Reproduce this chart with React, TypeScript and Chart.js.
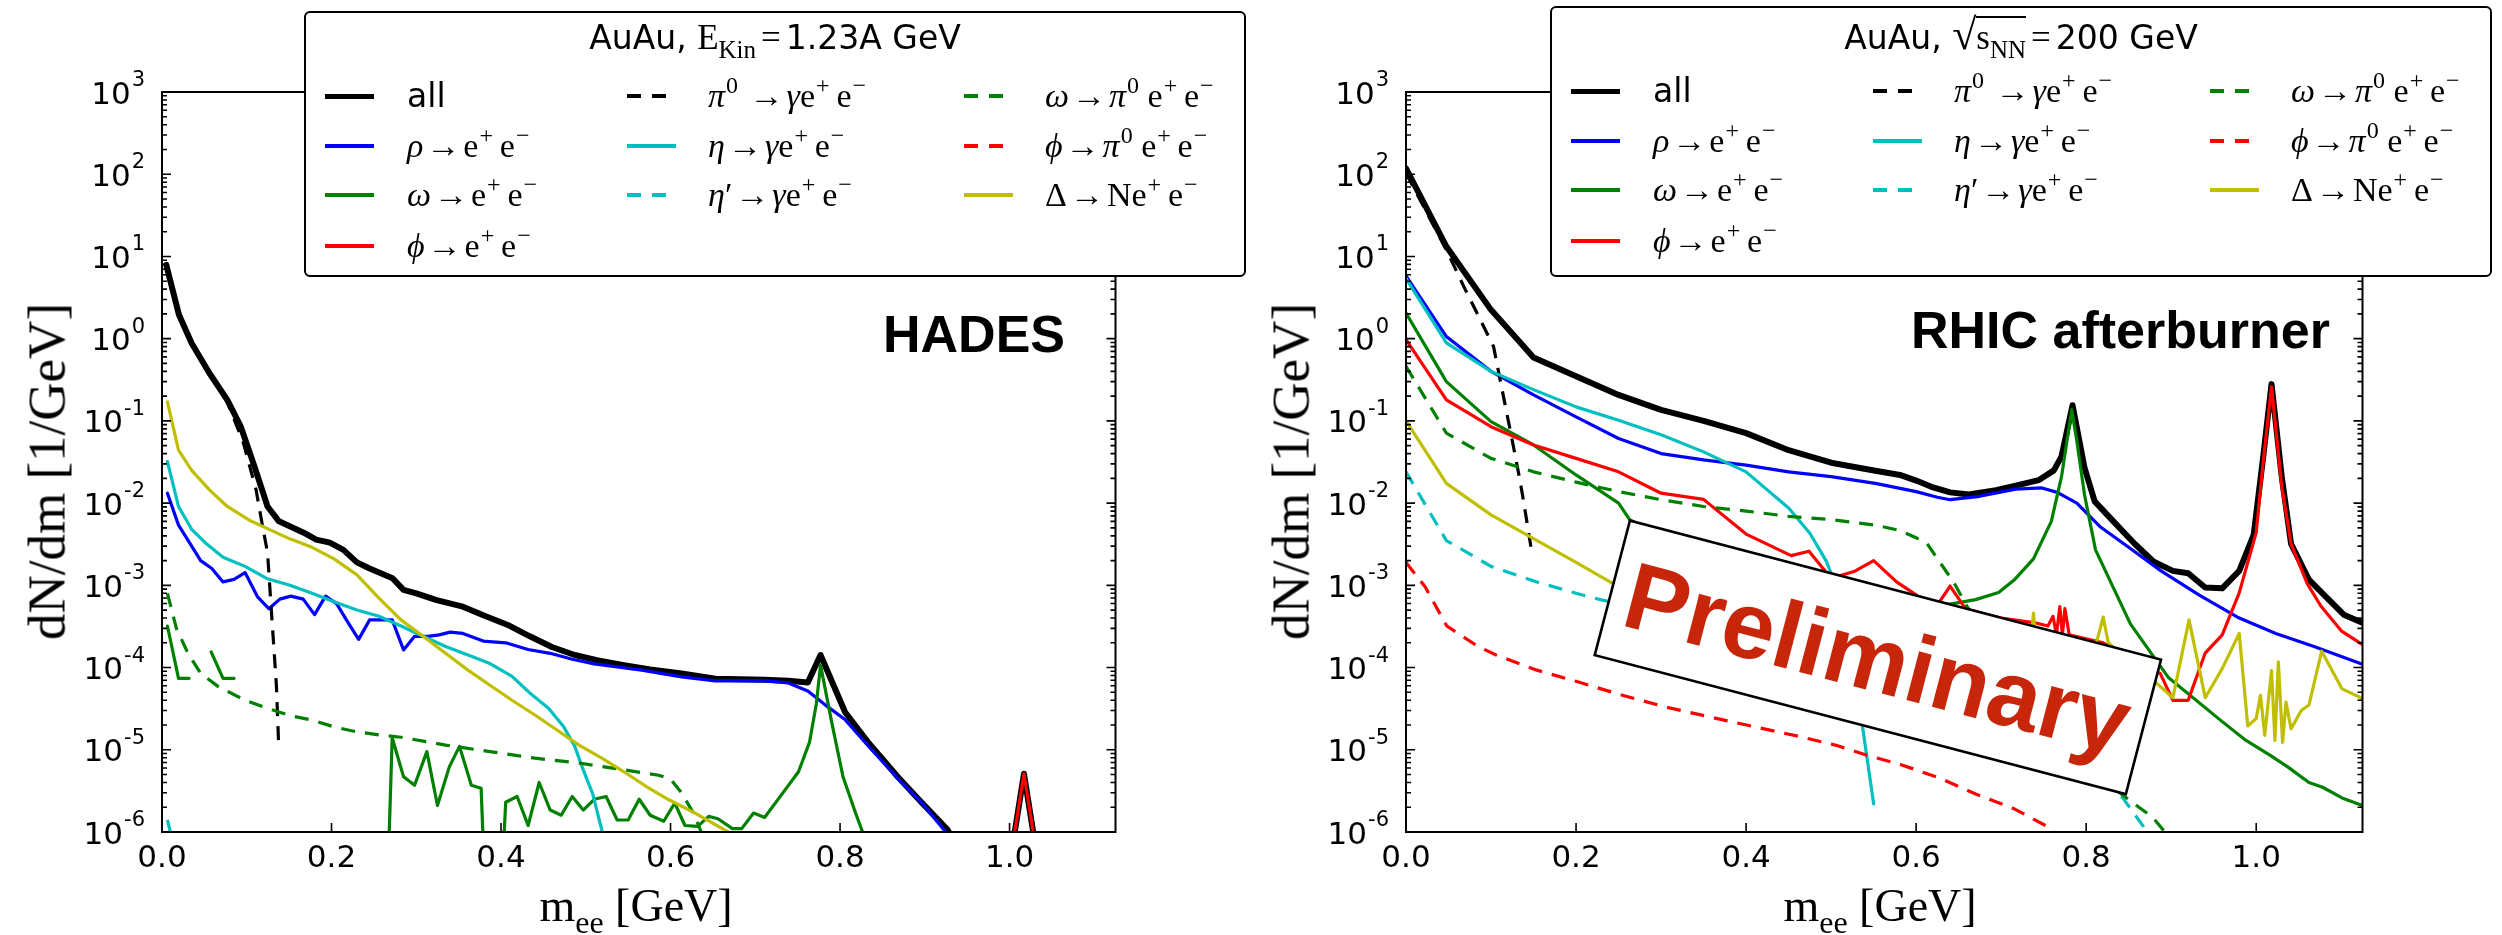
import React, { useEffect, useRef } from 'react';
import { Chart, registerables } from 'chart.js';
Chart.register(...registerables);

type Pt = [number, number | null];

// ---------------- axes / ticks ----------------
const xTickValues = [0, 0.2, 0.4, 0.6, 0.8, 1.0];
const xTickLabels = ['0.0', '0.2', '0.4', '0.6', '0.8', '1.0'];
const yExponents = [-6, -5, -4, -3, -2, -1, 0, 1, 2, 3];
const X_MAX = 1.125;
const Y_MIN = 1e-6;
const Y_MAX = 1e3;

// ---------------- HADES (AuAu, E_kin = 1.23A GeV) ----------------
const hadesAll: Pt[] = [[0.005,7.9],[0.02,1.95],[0.035,0.88],[0.056,0.38],[0.077,0.18],[0.093,0.085],[0.109,0.028],[0.1245,0.0091],[0.138,0.006],[0.1666,0.0044],[0.182,0.0036],[0.198,0.0033],[0.214,0.0027],[0.23,0.0019],[0.245,0.0016],[0.272,0.00122],[0.285,0.00088],[0.30,0.0008],[0.324,0.00066],[0.355,0.00055],[0.382,0.00042],[0.408,0.00033],[0.434,0.00024],[0.46,0.000178],[0.487,0.000142],[0.513,0.000123],[0.545,0.000107],[0.576,0.000095],[0.613,0.000085],[0.653,0.000073],[0.711,0.000071],[0.739,0.000069],[0.762,0.000066],[0.777,0.000142],[0.806,0.0000286],[0.833,0.0000124],[0.868,0.0000047],[0.896,0.0000023],[0.927,0.00000106],[0.95,4e-7],[0.98,3e-7],[1.0,4e-7],[1.017,5.1e-6],[1.034,4e-7],[1.06,2e-7]];
const hadesRho: Pt[] = [[0.0064,0.0132],[0.0195,0.0054],[0.035,0.003],[0.0456,0.002],[0.0588,0.0016],[0.072,0.0011],[0.085,0.00118],[0.098,0.00143],[0.1125,0.00073],[0.126,0.00052],[0.139,0.00068],[0.152,0.00074],[0.1666,0.00068],[0.18,0.00044],[0.193,0.00074],[0.206,0.0006],[0.219,0.00036],[0.232,0.00022],[0.245,0.00038],[0.258,0.00038],[0.2716,0.00038],[0.285,0.000164],[0.298,0.00024],[0.314,0.00024],[0.327,0.00025],[0.34,0.00027],[0.355,0.00026],[0.379,0.00021],[0.4055,0.0002],[0.432,0.000166],[0.458,0.000149],[0.484,0.000126],[0.51,0.000111],[0.537,0.000102],[0.566,0.000093],[0.613,0.000077],[0.653,0.000069],[0.711,0.000069],[0.739,0.000065],[0.762,0.000052],[0.786,0.000033],[0.8055,0.0000235],[0.833,0.0000112],[0.868,0.0000045],[0.896,0.0000023],[0.923,0.00000105],[0.95,4.5e-7]];
const hadesOmega: Pt[] = [[0.0064,3.2e-4],[0.0195,7.4e-5],[0.032,7.4e-5],[0.045,null],[0.058,1.55e-4],[0.072,7.4e-5],[0.085,7.4e-5],[0.098,null],[0.259,1e-9],[0.2716,1.4e-5],[0.285,4.7e-6],[0.298,3.7e-6],[0.3125,9.5e-6],[0.325,2.1e-6],[0.339,6.2e-6],[0.351,1.1e-5],[0.365,3.7e-6],[0.3765,3.4e-6],[0.39,1e-9],[0.4055,2.3e-6],[0.419,2.7e-6],[0.432,1.2e-6],[0.445,4e-6],[0.458,1.85e-6],[0.471,1.6e-6],[0.484,2.7e-6],[0.497,1.85e-6],[0.51,2.5e-6],[0.524,2.7e-6],[0.537,1.4e-6],[0.55,1.4e-6],[0.563,2.5e-6],[0.576,1.6e-6],[0.592,1.35e-6],[0.605,2.25e-6],[0.617,1.2e-6],[0.632,1.17e-6],[0.645,1.55e-6],[0.656,1.45e-6],[0.673,1.1e-6],[0.684,1.1e-6],[0.698,1.7e-6],[0.711,1.5e-6],[0.731,2.85e-6],[0.751,5.4e-6],[0.764,1.24e-5],[0.772,3.6e-5],[0.777,1.07e-4],[0.79,2.2e-5],[0.8035,4.7e-6],[0.818,1.74e-6],[0.83,8e-7],[0.85,2e-7]];
const hadesPhi: Pt[] = [[1.0,4e-7],[1.017,5.1e-6],[1.034,4e-7]];
const hadesPi0: Pt[] = [[0.005,7.5],[0.02,1.9],[0.035,0.85],[0.056,0.37],[0.077,0.17],[0.096,0.054],[0.111,0.0145],[0.119,0.005],[0.1245,0.0025],[0.129,0.0005],[0.135,0.00006],[0.1377,0.000011]];
const hadesEta: Pt[] = [[0.0064,0.032],[0.0195,0.0091],[0.035,0.0048],[0.051,0.0033],[0.072,0.0022],[0.098,0.0017],[0.1245,0.0012],[0.151,0.001],[0.177,0.0008],[0.203,0.00063],[0.23,0.0005],[0.256,0.00042],[0.282,0.00032],[0.308,0.00024],[0.3346,0.00018],[0.361,0.000142],[0.387,0.000112],[0.413,0.000078],[0.434,0.000049],[0.456,0.000032],[0.474,0.000019],[0.487,0.000011],[0.497,0.0000057],[0.508,0.00000295],[0.519,0.00000105],[0.53,3e-7]];
const hadesEtaPrime: Pt[] = [[0.0064,1.4e-6],[0.015,6e-7],[0.03,3e-7]];
const hadesOmegaPi0: Pt[] = [[0.0064,8e-4],[0.017,3e-4],[0.0305,1.5e-4],[0.0456,8.5e-5],[0.066,5.9e-5],[0.098,4e-5],[0.1245,3.2e-5],[0.151,2.6e-5],[0.177,2.3e-5],[0.203,1.9e-5],[0.23,1.65e-5],[0.256,1.52e-5],[0.282,1.42e-5],[0.3346,1.14e-5],[0.387,9.5e-6],[0.44,7.9e-6],[0.492,6.9e-6],[0.545,5.7e-6],[0.586,4.9e-6],[0.6,4.4e-6],[0.613,3e-6],[0.627,1.7e-6],[0.64,8e-7]];
const hadesPhiPi0: Pt[] = [];
const hadesDelta: Pt[] = [[0.0064,0.17],[0.0195,0.044],[0.035,0.025],[0.056,0.0145],[0.077,0.0091],[0.103,0.0062],[0.1245,0.0049],[0.15,0.0037],[0.177,0.0029],[0.203,0.0021],[0.23,0.00134],[0.256,0.0007],[0.282,0.00038],[0.308,0.00024],[0.3346,0.000149],[0.361,0.000093],[0.387,0.000061],[0.413,0.00004],[0.44,0.0000265],[0.466,0.0000174],[0.492,0.0000114],[0.519,0.0000079],[0.545,0.0000054],[0.571,0.0000036],[0.597,0.0000025],[0.629,0.0000017],[0.668,0.000001],[0.69,7e-7]];

// ---------------- RHIC afterburner (AuAu, sqrt(sNN) = 200 GeV) ----------------
const rhicAll: Pt[] = [[0,118],[0.0475,13.2],[0.1,2.24],[0.15,0.59],[0.2,0.35],[0.25,0.207],[0.3,0.136],[0.35,0.1],[0.4,0.071],[0.45,0.044],[0.5,0.031],[0.552,0.0248],[0.581,0.022],[0.6,0.0188],[0.62,0.0155],[0.64,0.0135],[0.662,0.0127],[0.694,0.0144],[0.721,0.0167],[0.744,0.019],[0.762,0.025],[0.771,0.037],[0.784,0.155],[0.798,0.027],[0.81,0.0105],[0.832,0.006],[0.857,0.0032],[0.879,0.00195],[0.902,0.0015],[0.92,0.0014],[0.94,0.00094],[0.96,0.00092],[0.98,0.0015],[0.997,0.0041],[1.008,0.035],[1.018,0.28],[1.03,0.021],[1.041,0.0032],[1.062,0.00117],[1.08,0.00076],[1.103,0.00044],[1.125,0.00035]];
const rhicRho: Pt[] = [[0,5.8],[0.0475,1.06],[0.1,0.40],[0.15,0.207],[0.2,0.112],[0.25,0.061],[0.3,0.040],[0.35,0.0336],[0.4,0.029],[0.45,0.024],[0.5,0.021],[0.552,0.0174],[0.6,0.0138],[0.625,0.0118],[0.64,0.011],[0.672,0.012],[0.717,0.0148],[0.748,0.0153],[0.766,0.0135],[0.789,0.01],[0.816,0.0052],[0.852,0.0028],[0.888,0.0015],[0.933,0.00076],[0.978,0.00041],[1.023,0.00026],[1.068,0.00018],[1.125,0.00011]];
const rhicOmega: Pt[] = [[0,2.05],[0.0475,0.30],[0.1,0.098],[0.15,0.051],[0.2,0.022],[0.25,0.01],[0.263,0.0063],[0.3,0.004],[0.4,0.0018],[0.5,0.001],[0.6,0.0006],[0.64,0.00059],[0.67,0.00067],[0.697,0.00082],[0.716,0.00118],[0.738,0.0021],[0.759,0.006],[0.771,0.021],[0.783,0.137],[0.789,0.057],[0.798,0.0127],[0.811,0.0027],[0.852,0.00034],[0.897,0.000075],[0.96,0.000022],[0.988,0.000013],[1.017,0.0000085],[1.037,0.0000062],[1.062,0.000004],[1.078,0.0000035],[1.101,0.0000026],[1.125,0.0000021]];
const rhicPhi: Pt[] = [[0,0.97],[0.0475,0.18],[0.1,0.085],[0.15,0.051],[0.2,0.035],[0.25,0.024],[0.3,0.0132],[0.35,0.0111],[0.4,0.0042],[0.453,0.0023],[0.474,0.0026],[0.5,0.00122],[0.527,0.00147],[0.55,0.002],[0.577,0.0011],[0.603,0.00073],[0.626,0.0006],[0.64,0.00098],[0.658,0.00052],[0.7,0.0004],[0.74,0.00035],[0.755,0.00032],[0.761,0.00042],[0.765,0.00025],[0.769,0.00055],[0.772,0.00025],[0.775,0.00052],[0.78,0.00025],[0.82,0.0002],[0.86,0.00012],[0.887,0.000085],[0.902,0.00004],[0.92,0.00004],[0.94,0.00015],[0.96,0.00025],[0.98,0.00081],[1.0,0.0044],[1.008,0.03],[1.018,0.26],[1.03,0.016],[1.041,0.0032],[1.06,0.00105],[1.076,0.00056],[1.1,0.00028],[1.125,0.00019]];
const rhicPi0: Pt[] = [[0,103],[0.0475,12],[0.068,4.3],[0.09,1.5],[0.103,0.8],[0.113,0.24],[0.124,0.065],[0.134,0.019],[0.138,0.011],[0.148,0.0025]];
const rhicEta: Pt[] = [[0,5.4],[0.0475,0.89],[0.1,0.40],[0.15,0.24],[0.2,0.148],[0.25,0.102],[0.3,0.068],[0.35,0.042],[0.4,0.024],[0.45,0.0087],[0.475,0.0043],[0.494,0.002],[0.5,0.0014],[0.537,0.000019],[0.55,0.0000022]];
const rhicEtaPrime: Pt[] = [[0,0.024],[0.0475,0.0035],[0.1,0.0017],[0.154,0.0011],[0.2,0.0008],[0.231,0.00066],[0.3,0.0005],[0.4,0.00033],[0.5,0.0002],[0.6,0.00011],[0.7,0.00004],[0.8,0.000009],[0.843,0.0000026],[0.87,0.00000107],[0.89,5e-7]];
const rhicOmegaPi0: Pt[] = [[0,0.46],[0.0475,0.071],[0.1,0.035],[0.15,0.024],[0.2,0.018],[0.25,0.0138],[0.3,0.011],[0.35,0.0091],[0.4,0.008],[0.45,0.0069],[0.5,0.0063],[0.552,0.0054],[0.579,0.0047],[0.6,0.0038],[0.613,0.0032],[0.628,0.0019],[0.644,0.0011],[0.66,0.00055],[0.7,0.00015],[0.75,0.00003],[0.8,0.000007],[0.834,0.0000033],[0.879,0.00000148],[0.91,6e-7]];
const rhicPhiPi0: Pt[] = [[0,0.0019],[0.0225,0.00096],[0.048,0.00032],[0.085,0.00018],[0.106,0.000142],[0.154,0.000093],[0.2,0.000068],[0.2546,0.000046],[0.306,0.000033],[0.358,0.000025],[0.41,0.000019],[0.463,0.0000145],[0.505,0.0000114],[0.542,0.0000086],[0.584,0.0000065],[0.626,0.0000046],[0.67,0.0000029],[0.716,0.0000019],[0.752,0.0000012],[0.78,7e-7]];
const rhicDelta: Pt[] = [[0,0.1],[0.0475,0.0174],[0.1,0.0072],[0.15,0.0037],[0.2,0.0019],[0.24,0.0011],[0.3,0.0006],[0.4,0.0003],[0.5,0.0002],[0.6,0.00015],[0.7,0.00012],[0.735,0.0002],[0.738,0.00046],[0.741,0.0002],[0.78,0.00015],[0.812,0.0002],[0.82,0.00041],[0.826,0.0002],[0.85,0.00012],[0.881,0.000067],[0.902,0.000043],[0.921,0.00038],[0.94,0.000043],[0.96,0.000097],[0.98,0.00026],[0.99,0.0000195],[1.0,0.000024],[1.005,0.000046],[1.01,0.000015],[1.018,0.000092],[1.022,0.000013],[1.026,0.000117],[1.031,0.0000123],[1.035,0.000038],[1.041,0.000018],[1.053,0.00003],[1.062,0.000035],[1.077,0.000158],[1.101,0.000055],[1.125,0.000042]];

// "Preliminary" stamp, anchored in data coordinates
const prelimCenter = { m: 0.555, v: 1.33e-4 };

// ---------------- styles ----------------
const BLUE = '#0000ff', GREEN = '#008000', RED = '#ff0000', CYAN = '#00bfbf', BLACK = '#000000', OLIVE = '#bfbf00';
const STYLES = [
  { color: BLACK, dash: false, w: 6 },
  { color: BLUE, dash: false, w: 3.2 },
  { color: GREEN, dash: false, w: 3.2 },
  { color: RED, dash: false, w: 3.2 },
  { color: BLACK, dash: true, w: 3.2 },
  { color: CYAN, dash: false, w: 3.2 },
  { color: CYAN, dash: true, w: 3.2 },
  { color: GREEN, dash: true, w: 3.2 },
  { color: RED, dash: true, w: 3.2 },
  { color: OLIVE, dash: false, w: 3.2 },
];

const sans = '"DejaVu Sans", sans-serif';
const serif = '"Liberation Serif", "Times New Roman", serif';
const boldSans = '"Liberation Sans", Arial, sans-serif';

function buildDatasets(series: Pt[][]) {
  return series.map((s, i) => {
    const st = STYLES[i];
    return {
      data: s.map(([x, y]) => ({ x, y })),
      borderColor: st.color,
      backgroundColor: st.color,
      borderWidth: st.w,
      borderDash: st.dash ? [14, 10] : [],
      borderJoinStyle: 'round' as const,
      borderCapStyle: st.dash ? ('butt' as const) : ('round' as const),
      pointRadius: 0,
      tension: 0,
      fill: false,
      spanGaps: false,
      clip: 0,
      order: 20 - i,
    };
  });
}

const decorPlugin = {
  id: 'decor',
  afterDatasetsDraw(chart: any, _a: any, opts: any) {
    if (!opts || !opts.prelim) return;
    const { ctx } = chart;
    const { x, y } = chart.scales;
    const cx = x.getPixelForValue(prelimCenter.m);
    const cy = y.getPixelForValue(prelimCenter.v);
    const w = 549, h = 139;
    ctx.save();
    ctx.translate(cx, cy);
    ctx.rotate((14.67 * Math.PI) / 180);
    ctx.fillStyle = '#ffffff';
    ctx.fillRect(-w / 2, -h / 2, w, h);
    ctx.lineWidth = 2.6;
    ctx.strokeStyle = '#000';
    ctx.strokeRect(-w / 2, -h / 2, w, h);
    ctx.fillStyle = '#c8260b';
    ctx.font = `bold 95px ${boldSans}`;
    ctx.textAlign = 'center';
    ctx.textBaseline = 'alphabetic';
    ctx.fillText('Preliminary', 0, 34);
    ctx.restore();
  },
  afterDraw(chart: any) {
    const { ctx, chartArea: a } = chart;
    const { x, y } = chart.scales;
    ctx.save();
    ctx.strokeStyle = '#000';
    ctx.lineWidth = 2;
    ctx.strokeRect(a.left, a.top, a.right - a.left, a.bottom - a.top);
    ctx.lineWidth = 1.6;
    ctx.beginPath();
    xTickValues.forEach((v) => {
      const px = x.getPixelForValue(v);
      ctx.moveTo(px, a.bottom); ctx.lineTo(px, a.bottom - 9);
      ctx.moveTo(px, a.top); ctx.lineTo(px, a.top + 9);
    });
    yExponents.forEach((e) => {
      const py = y.getPixelForValue(Math.pow(10, e));
      ctx.moveTo(a.left, py); ctx.lineTo(a.left + 9, py);
      ctx.moveTo(a.right, py); ctx.lineTo(a.right - 9, py);
      if (e < 3) {
        for (let k = 2; k <= 9; k++) {
          const pm = y.getPixelForValue(k * Math.pow(10, e));
          ctx.moveTo(a.left, pm); ctx.lineTo(a.left + 5, pm);
          ctx.moveTo(a.right, pm); ctx.lineTo(a.right - 5, pm);
        }
      }
    });
    ctx.stroke();
    ctx.fillStyle = '#000';
    ctx.textBaseline = 'alphabetic';
    ctx.font = `31px ${sans}`;
    ctx.textAlign = 'center';
    xTickValues.forEach((v, i) => {
      ctx.fillText(xTickLabels[i], x.getPixelForValue(v), a.bottom + 35);
    });
    ctx.textAlign = 'left';
    yExponents.forEach((e) => {
      const py = y.getPixelForValue(Math.pow(10, e));
      const sup = String(e);
      ctx.font = `21px ${sans}`;
      const sw = ctx.measureText(sup).width;
      ctx.font = `31px ${sans}`;
      const mw = ctx.measureText('10').width;
      const right = a.left - 17;
      ctx.fillText('10', right - sw - mw - 1, py + 11.5);
      ctx.font = `21px ${sans}`;
      ctx.fillText(sup, right - sw, py - 6);
    });
    ctx.restore();
  },
};

function Panel(props: { left: number; width: number; padding: any; series: Pt[][]; prelim: boolean }) {
  const ref = useRef<HTMLCanvasElement>(null);
  useEffect(() => {
    const chart = new Chart(ref.current as HTMLCanvasElement, {
      type: 'line',
      data: { datasets: buildDatasets(props.series) as any },
      options: {
        animation: false,
        responsive: false,
        events: [],
        layout: { padding: props.padding },
        plugins: {
          legend: { display: false },
          tooltip: { enabled: false },
          decor: { prelim: props.prelim },
        } as any,
        scales: {
          x: { type: 'linear', min: 0, max: X_MAX, display: false },
          y: { type: 'logarithmic', min: Y_MIN, max: Y_MAX, display: false },
        },
      },
      plugins: [decorPlugin as any],
    });
    return () => chart.destroy();
  }, []);
  return (
    <canvas
      ref={ref}
      width={props.width}
      height={935}
      style={{ position: 'absolute', left: props.left, top: 0, width: props.width, height: 935 }}
    />
  );
}

// ---------------- legend (HTML) ----------------
const Sup = ({ children }: any) => (
  <span style={{ fontSize: 24, position: 'relative', top: -14, lineHeight: 0, marginLeft: 1 }}>{children}</span>
);
const Sub = ({ children, size = 24, drop = 10 }: any) => (
  <span style={{ fontSize: size, position: 'relative', top: drop, lineHeight: 0 }}>{children}</span>
);
const G = ({ children }: any) => <i>{children}</i>;
const Arr = () => <span style={{ margin: '0 3px' }}>→</span>;
const EE = () => (<>e<Sup>+</Sup>{'\u2009'}e<Sup>−</Sup></>);

const legendEntries = [
  { col: 0, row: 0, si: 0, label: <span style={{ fontFamily: sans, fontSize: 33 }}>all</span> },
  { col: 0, row: 1, si: 1, label: <><G>ρ</G><Arr /><EE /></> },
  { col: 0, row: 2, si: 2, label: <><G>ω</G><Arr /><EE /></> },
  { col: 0, row: 3, si: 3, label: <><G>ϕ</G><Arr /><EE /></> },
  { col: 1, row: 0, si: 4, label: <><G>π</G><Sup>0</Sup>{' '}<Arr /><G>γ</G><EE /></> },
  { col: 1, row: 1, si: 5, label: <><G>η</G><Arr /><G>γ</G><EE /></> },
  { col: 1, row: 2, si: 6, label: <><G>η</G>′<Arr /><G>γ</G><EE /></> },
  { col: 2, row: 0, si: 7, label: <><G>ω</G><Arr /><G>π</G><Sup>0</Sup>{' '}<EE /></> },
  { col: 2, row: 1, si: 8, label: <><G>ϕ</G><Arr /><G>π</G><Sup>0</Sup>{' '}<EE /></> },
  { col: 2, row: 2, si: 9, label: <>Δ<Arr />N<EE /></> },
];
const LEG_LINE_X = [21, 323, 660];
const LEG_TEXT_X = [103, 404, 741];
const LEG_ROW_Y = [85, 135, 184, 235];

function LegendBox(props: { left: number; top: number; height: number; title: any; titleY: number }) {
  const B = 2;
  return (
    <div
      style={{
        position: 'absolute', left: props.left, top: props.top, width: 942, height: props.height,
        border: `${B}px solid #000`, borderRadius: 6, background: '#fff', boxSizing: 'border-box',
      }}
    >
      <div
        style={{
          position: 'absolute', left: -B, top: props.titleY - 20 - B, width: 942, height: 40,
          lineHeight: '40px', textAlign: 'center', fontFamily: sans, fontSize: 33, whiteSpace: 'nowrap',
        }}
      >
        {props.title}
      </div>
      {legendEntries.map((en, i) => {
        const st = STYLES[en.si];
        const lw = en.si === 0 ? 5 : 3.5;
        const yC = LEG_ROW_Y[en.row] - B;
        const lineStyle: any = st.dash
          ? {
              width: 39,
              background: `repeating-linear-gradient(90deg, ${st.color} 0px, ${st.color} 14px, transparent 14px, transparent 25px)`,
            }
          : { width: 49, background: st.color };
        return (
          <React.Fragment key={i}>
            <div
              style={{
                position: 'absolute', left: LEG_LINE_X[en.col] - B, top: yC - lw / 2, height: lw, ...lineStyle,
              }}
            />
            <div
              style={{
                position: 'absolute', left: LEG_TEXT_X[en.col] - B, top: yC - 20, height: 40, lineHeight: '40px',
                fontFamily: serif, fontSize: 34, whiteSpace: 'nowrap', color: '#000',
              }}
            >
              {en.label}
            </div>
          </React.Fragment>
        );
      })}
    </div>
  );
}

const titleHades = (
  <>
    AuAu,{' '}
    <span style={{ fontFamily: serif, fontSize: 35 }}>
      E<Sub size={25} drop={9}>Kin</Sub><span style={{ margin: '0 5px' }}>=</span>
    </span>
    1.23A GeV
  </>
);
const titleRhic = (
  <>
    AuAu,{' '}
    <span style={{ fontFamily: serif, fontSize: 35 }}>
      <span style={{ fontSize: 44 }}>√</span>
      <span style={{ borderTop: '2.5px solid #000', paddingTop: 0 }}>s<Sub size={25} drop={9}>NN</Sub></span>
      <span style={{ margin: '0 5px' }}>=</span>
    </span>
    200 GeV
  </>
);

function AxisTitles(props: { dx: number }) {
  const { dx } = props;
  return (
    <>
      <div
        style={{
          position: 'absolute', left: 636 + dx - 300, top: 883, width: 600, height: 46, lineHeight: '46px',
          textAlign: 'center', fontFamily: serif, fontSize: 46, whiteSpace: 'nowrap',
        }}
      >
        m<Sub size={32} drop={12}>ee</Sub> [GeV]
      </div>
      <div
        style={{
          position: 'absolute', left: 47 + dx - 300, top: 471 - 26.5, width: 600, height: 53, lineHeight: '53px',
          textAlign: 'center', fontFamily: serif, fontSize: 53, whiteSpace: 'nowrap', transform: 'rotate(-90deg)',
        }}
      >
        dN/dm [1/GeV]
      </div>
    </>
  );
}

export default function App() {
  const hadesSeries = [hadesAll, hadesRho, hadesOmega, hadesPhi, hadesPi0, hadesEta, hadesEtaPrime, hadesOmegaPi0, hadesPhiPi0, hadesDelta];
  const rhicSeries = [rhicAll, rhicRho, rhicOmega, rhicPhi, rhicPi0, rhicEta, rhicEtaPrime, rhicOmegaPi0, rhicPhiPi0, rhicDelta];
  return (
    <div style={{ position: 'absolute', left: 0, top: 0, width: 2502, height: 935, background: '#fff', overflow: 'hidden' }}>
      <Panel left={0} width={1251} padding={{ left: 162, right: 135.5, top: 92, bottom: 103 }} series={hadesSeries} prelim={false} />
      <Panel left={1251} width={1251} padding={{ left: 155, right: 139.5, top: 92, bottom: 103 }} series={rhicSeries} prelim={true} />
      <AxisTitles dx={0} />
      <AxisTitles dx={1244} />
      <div style={{ position: 'absolute', left: 883, top: 308, fontFamily: boldSans, fontWeight: 'bold', fontSize: 52, lineHeight: '52px', whiteSpace: 'nowrap' }}>
        HADES
      </div>
      <div style={{ position: 'absolute', left: 1911, top: 304, fontFamily: boldSans, fontWeight: 'bold', fontSize: 52, lineHeight: '52px', whiteSpace: 'nowrap' }}>
        RHIC afterburner
      </div>
      <LegendBox left={304} top={11} height={266} title={titleHades} titleY={27} />
      <LegendBox left={1550} top={6} height={271} title={titleRhic} titleY={29} />
    </div>
  );
}
